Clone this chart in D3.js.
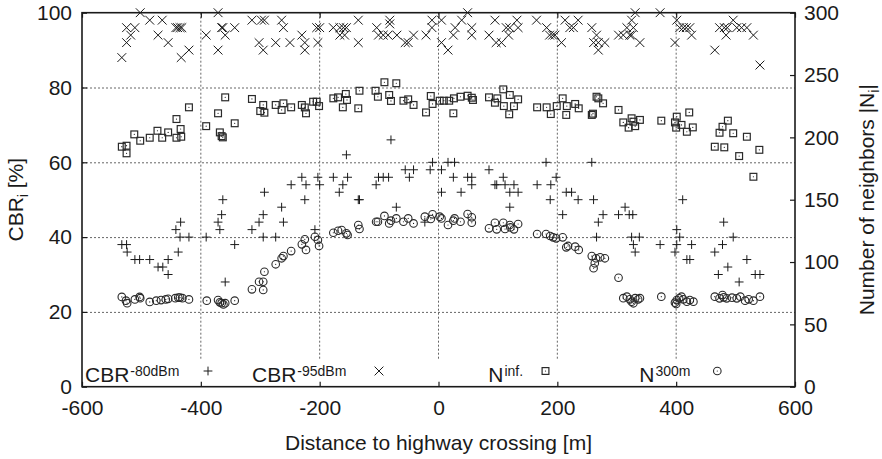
<!DOCTYPE html>
<html>
<head>
<meta charset="utf-8">
<script src="https://cdn.jsdelivr.net/npm/d3@7"></script>
<style>
  html, body { margin: 0; padding: 0; background: #fff; }
  svg { display: block; }
  text { font-family: "Liberation Sans", Arial, Helvetica, sans-serif; fill: #1a1a1a; }
</style>
</head>
<body>
<svg id="chart" width="882" height="459"></svg>
<script>
// Distance to highway crossing [m] vs channel busy ratio [%] (left axis)
// and neighbour counts (right axis).

const xTicks = [-600, -400, -200, 0, 200, 400, 600];
const xGrid = [-400, -200, 0, 200, 400];
const leftTicks = [0, 20, 40, 60, 80, 100];
const leftGrid = [20, 40, 60, 80];
const rightTicks = [0, 50, 100, 150, 200, 250, 300];

// CBR with -80 dBm threshold [%]  (plus markers)
const cbr80 = [
  [-533,38],[-525,38],[-524,36],[-511,34],[-503,34],[-486,34],[-472,32],[-464,32],[-455,34],[-455,30],
  [-442,42],[-434,44],[-438,36],[-435,40],[-420,40],[-391,40],[-371,44],[-368,42],[-365,46],[-363,50],
  [-359,28],[-343,38],[-314,42],[-302,44],[-295,46],[-295,40],[-293,52],[-274,40],[-264,48],[-261,44],
  [-248,54],[-230,56],[-223,54],[-225,50],[-203,56],[-200,54],[-208,42],[-177,56],[-161,54],[-153,56],
  [-167,52],[-155,62],[-135,50],[-133,50],[-105,54],[-101,56],[-93,56],[-84,56],[-80,66],[-71,48],
  [-56,58],[-49,56],[-42,58],[-23,44],[-14,58],[-10,60],[5,58],[5,52],[16,60],[27,60],
  [25,56],[38,52],[49,56],[56,56],[56,54],[85,58],[95,54],[98,54],[109,56],[112,54],
  [120,52],[120,48],[127,54],[134,52],[166,54],[181,60],[189,54],[188,50],[198,56],[209,46],
  [215,52],[224,52],[235,50],[258,60],[261,50],[269,44],[277,46],[266,40],[303,46],[314,48],
  [321,46],[327,46],[325,40],[328,38],[331,36],[338,40],[373,38],[398,36],[401,42],[406,40],
  [401,38],[411,50],[426,38],[418,34],[423,34],[465,36],[478,38],[480,44],[496,40],[471,30],
  [487,32],[506,28],[519,34],[533,30],[541,30]
];

// CBR with -95 dBm threshold [%]  (cross markers)
const cbr95 = [
  [-533,88],[-525,96],[-525,92],[-518,94],[-511,96],[-502,100],[-486,98],[-472,94],[-465,98],[-455,92],
  [-442,96],[-439,96],[-435,96],[-432,96],[-433,88],[-420,90],[-391,94],[-371,100],[-371,90],[-365,96],
  [-363,96],[-359,94],[-343,96],[-314,98],[-298,98],[-293,98],[-302,92],[-295,90],[-274,92],[-264,98],
  [-261,96],[-250,92],[-230,94],[-225,92],[-225,90],[-205,96],[-200,96],[-203,92],[-177,96],[-166,96],
  [-160,96],[-155,96],[-166,94],[-158,94],[-135,98],[-135,92],[-104,96],[-101,94],[-93,94],[-82,98],
  [-82,97],[-85,94],[-70,94],[-56,92],[-51,92],[-42,94],[-21,94],[-11,96],[-11,98],[5,98],
  [5,92],[16,90],[25,94],[28,96],[39,98],[49,100],[56,96],[56,94],[85,94],[95,98],
  [97,92],[106,92],[114,96],[120,96],[118,94],[132,98],[134,96],[165,98],[182,96],[187,94],
  [192,94],[196,94],[207,92],[213,98],[221,96],[227,96],[235,98],[258,96],[266,94],[261,92],
  [269,92],[269,90],[280,92],[303,94],[311,94],[317,96],[322,94],[325,98],[328,96],[331,100],
  [325,94],[339,92],[373,100],[398,92],[401,98],[406,96],[412,96],[417,96],[423,96],[426,94],
  [465,90],[473,96],[481,96],[484,94],[486,96],[496,98],[502,96],[510,96],[519,96],[530,94],
  [541,86]
];

// Number of neighbours, unlimited range  (dotted squares)
const nInf = [
  [-533,192.5],[-525,193.3],[-525,187.2],[-512,202.4],[-502,197.3],[-486,199.7],[-473,205.3],[-465,199.7],
  [-455,204],[-441,214.7],[-441,199.7],[-434,206.7],[-433,200.5],[-420,224.1],[-391,209],[-371,219.3],
  [-368,204],[-365,201],[-363,200],[-359,232.1],[-343,211.3],[-314,230.8],[-300,221.1],[-295,226],
  [-293,219.8],[-274,226],[-264,222],[-261,227.3],[-248,224.1],[-230,226],[-225,224],[-223,219.3],
  [-211,228.6],[-205,228.6],[-201,225.1],[-177,231.3],[-169,232.1],[-156,234.8],[-154,230],[-161,224.1],
  [-133,237.4],[-135,223.3],[-106,237.4],[-102,232.6],[-91,244.2],[-83,234],[-80,229.2],[-71,243.4],
  [-59,229.4],[-51,230.5],[-42,226],[-21,220],[-13,233.2],[-10,226.8],[2,229.4],[9,229.4],
  [18,229.4],[25,219.3],[26,231.3],[37,232.6],[49,233.4],[56,231.8],[58,230],[85,232.1],
  [95,227.8],[99,231.3],[109,238.5],[110,225.1],[120,234],[127,225],[134,230.5],[119,218.5],
  [166,224.1],[182,224.1],[189,218.7],[199,225.1],[209,231.3],[216,225.1],[215,218],[230,226.8],
  [236,223.3],[258,218],[260,219],[266,232.6],[269,231.3],[277,227.3],[303,222],[311,212],
  [320,207.8],[325,215.3],[328,212.6],[331,209],[339,214],[375,213.4],[398,212],[401,216.6],
  [400,207.8],[409,210],[418,204.5],[422,220],[428,208],[465,192.5],[473,203.7],[478,208.5],
  [481,192],[487,213.4],[496,203.3],[506,185],[519,200.5],[540,190],[530,168.4]
];

// Number of neighbours within 300 m  (dotted circles)
const n300 = [
  [-533,72],[-526,69],[-524,67],[-511,70],[-503,72],[-502,71],[-486,68],[-475,69],[-467,69.5],[-459,70],
  [-455,70.5],[-443,71],[-438,71.5],[-435,71.5],[-431,71],[-420,70],[-390,69],[-371,69.5],[-368,67.7],[-365,67],
  [-362,66],[-359,67],[-343,69],[-314,78.1],[-302,84.2],[-295,84.2],[-295,77.6],[-293,92.2],[-274,98.2],[-264,103],
  [-261,104.8],[-248,108.8],[-230,114.2],[-223,109.7],[-225,118.2],[-208,120.3],[-203,117.7],[-201,112.9],[-177,123.5],[-169,125.1],
  [-163,125.7],[-155,123],[-153,121.7],[-135,129.7],[-133,126.5],[-105,132.3],[-102,132.3],[-91,137],[-83,131],[-80,133.2],
  [-71,135],[-59,132.3],[-51,135],[-42,131],[-23,136.4],[-13,134.5],[-10,138.3],[2,136.4],[5,135],[16,129.7],
  [25,133.2],[27,135],[37,132.3],[49,138.5],[56,135.9],[56,131.5],[85,127],[95,131.5],[98,126.2],[109,131.5],
  [112,126.5],[120,129.7],[121,127.8],[127,126.2],[134,130.5],[166,122.5],[181,122.5],[188,120.9],[193,119.8],[198,119],
  [209,119.8],[215,111.8],[218,112.9],[230,112.3],[236,109.7],[258,104.8],[265,103],[272,103.8],[280,103],[263,99],
  [261,95],[303,87.4],[311,71],[317,72.2],[322,70.1],[325,68.2],[328,66.9],[331,71],[336,70.1],[339,71],
  [375,72.2],[398,67.4],[401,69.5],[405,70.9],[409,72.2],[412,70.1],[418,68.2],[423,69.5],[429,68.2],[400,66.3],
  [465,72.2],[473,70.9],[478,73.5],[480,71.7],[485,70.9],[494,71.4],[502,70.9],[508,72.2],[516,69],[522,70.1],
  [530,69],[541,72.2]
];

const W = 882, H = 459;
const plot = { left: 82, right: 795, top: 12.7, bottom: 386.7 };
const gridBottom = 360;

const x = d3.scaleLinear().domain([-600, 600]).range([plot.left, plot.right]);
const yL = d3.scaleLinear().domain([0, 100]).range([plot.bottom, plot.top]);
const yR = d3.scaleLinear().domain([0, 300]).range([plot.bottom, plot.top]);

const svg = d3.select("#chart");
const ink = "#1a1a1a";
const FS = 21;
const plain = d => String(d);   // ASCII hyphen for negative numbers

// grid
const grid = svg.append("g").attr("stroke", "#666").attr("stroke-width", 1)
  .attr("stroke-dasharray", "2,2").attr("fill", "none");
grid.selectAll("line.h").data(leftGrid).join("line")
  .attr("x1", plot.left).attr("x2", plot.right)
  .attr("y1", d => yL(d) + 0.5).attr("y2", d => yL(d) + 0.5);
grid.selectAll("line.v").data(xGrid).join("line")
  .attr("x1", d => x(d)).attr("x2", d => x(d))
  .attr("y1", plot.top).attr("y2", gridBottom);

// axes (inward ticks)
function styleAxis(g) {
  g.select(".domain").remove();
  g.selectAll(".tick line").attr("stroke", ink).attr("stroke-width", 1.2);
  g.selectAll(".tick text").attr("font-size", FS).attr("fill", ink)
    .style("font-family", '"Liberation Sans", Arial, sans-serif');
}
svg.append("g").attr("transform", `translate(0,${plot.bottom})`)
  .call(d3.axisBottom(x).tickValues(xTicks).tickFormat(plain).tickSize(-5).tickPadding(13))
  .call(styleAxis);
svg.append("g").attr("transform", `translate(0,${plot.top})`)
  .call(d3.axisTop(x).tickValues(xTicks).tickFormat("").tickSize(-5))
  .call(styleAxis);
svg.append("g").attr("transform", `translate(${plot.left},0)`)
  .call(d3.axisLeft(yL).tickValues(leftTicks).tickFormat(plain).tickSize(-5).tickPadding(10))
  .call(styleAxis);
svg.append("g").attr("transform", `translate(${plot.right},0)`)
  .call(d3.axisRight(yR).tickValues(rightTicks).tickFormat(plain).tickSize(-5).tickPadding(9))
  .call(styleAxis);

// frame
svg.append("rect")
  .attr("x", plot.left).attr("y", plot.top)
  .attr("width", plot.right - plot.left).attr("height", plot.bottom - plot.top)
  .attr("fill", "none").attr("stroke", ink).attr("stroke-width", 1.6);

// marker shapes
const plusPath = (cx, cy, s) => `M${cx - s},${cy}L${cx + s},${cy}M${cx},${cy - s}L${cx},${cy + s}`;
const crossPath = (cx, cy, s) => `M${cx - s},${cy - s}L${cx + s},${cy + s}M${cx - s},${cy + s}L${cx + s},${cy - s}`;

const marks = svg.append("g").attr("fill", "none").attr("stroke", ink).attr("stroke-width", 1);

marks.append("g").selectAll("path").data(cbr80).join("path")
  .attr("d", d => plusPath(x(d[0]), yL(d[1]), 4.4));
marks.append("g").selectAll("path").data(cbr95).join("path")
  .attr("d", d => crossPath(x(d[0]), yL(d[1]), 4.4));

function squareMark(sel, cx, cy) {
  sel.append("rect").attr("x", cx - 3.4).attr("y", cy - 3.4).attr("width", 6.8).attr("height", 6.8)
    .attr("stroke", "#2a2a2a").attr("stroke-width", 1.2).attr("fill", "none");
  sel.append("circle").attr("cx", cx).attr("cy", cy).attr("r", 0.6).attr("fill", ink).attr("stroke", "none");
}
function circleMark(sel, cx, cy) {
  sel.append("circle").attr("cx", cx).attr("cy", cy).attr("r", 3.8)
    .attr("stroke", "#2a2a2a").attr("stroke-width", 1.1).attr("fill", "none");
  sel.append("circle").attr("cx", cx).attr("cy", cy).attr("r", 0.6).attr("fill", ink).attr("stroke", "none");
}
marks.append("g").selectAll("g").data(nInf).join("g")
  .each(function (d) { squareMark(d3.select(this), x(d[0]), yR(d[1])); });
marks.append("g").selectAll("g").data(n300).join("g")
  .each(function (d) { circleMark(d3.select(this), x(d[0]), yR(d[1])); });

// legend
const legendY = 382;
const symY = 371;
const legend = [
  { base: "CBR", sup: "-80dBm", tx: 85, sx: 208, kind: "plus" },
  { base: "CBR", sup: "-95dBm", tx: 252, sx: 379, kind: "cross" },
  { base: "N", sup: "inf.", tx: 488.3, sx: 545.5, kind: "square" },
  { base: "N", sup: "300m", tx: 639.3, sx: 717.3, kind: "circle" }
];
const lg = svg.append("g");
legend.forEach(e => {
  const t = lg.append("text").attr("x", e.tx).attr("y", legendY).attr("font-size", FS);
  t.append("tspan").text(e.base);
  t.append("tspan").attr("font-size", 14).attr("dx", 1).attr("dy", -6).text(e.sup);
  const g = lg.append("g").attr("fill", "none").attr("stroke", ink).attr("stroke-width", 1);
  if (e.kind === "plus") g.append("path").attr("d", plusPath(e.sx, symY, 4.4));
  if (e.kind === "cross") g.append("path").attr("d", crossPath(e.sx, symY, 4.4));
  if (e.kind === "square") squareMark(g, e.sx, symY);
  if (e.kind === "circle") circleMark(g, e.sx, symY);
});

// axis titles
const midY = (plot.top + plot.bottom) / 2;
const lt = svg.append("text").attr("transform", `translate(22.5,${midY}) rotate(-90)`)
  .attr("text-anchor", "middle").attr("font-size", FS);
lt.append("tspan").text("CBR");
lt.append("tspan").attr("font-size", 14).attr("dy", 5).text("i");
lt.append("tspan").attr("dy", -5).text(" [%]");

const rt = svg.append("text").attr("transform", `translate(873.5,${midY}) rotate(-90)`)
  .attr("text-anchor", "middle").attr("font-size", FS);
rt.append("tspan").text("Number of neighbors |N");
rt.append("tspan").attr("font-size", 14).attr("dy", 5).text("i");
rt.append("tspan").attr("dy", -5).text("|");

svg.append("text").attr("x", (plot.left + plot.right) / 2).attr("y", 450)
  .attr("text-anchor", "middle").attr("font-size", FS)
  .text("Distance to highway crossing [m]");
</script>
</body>
</html>
